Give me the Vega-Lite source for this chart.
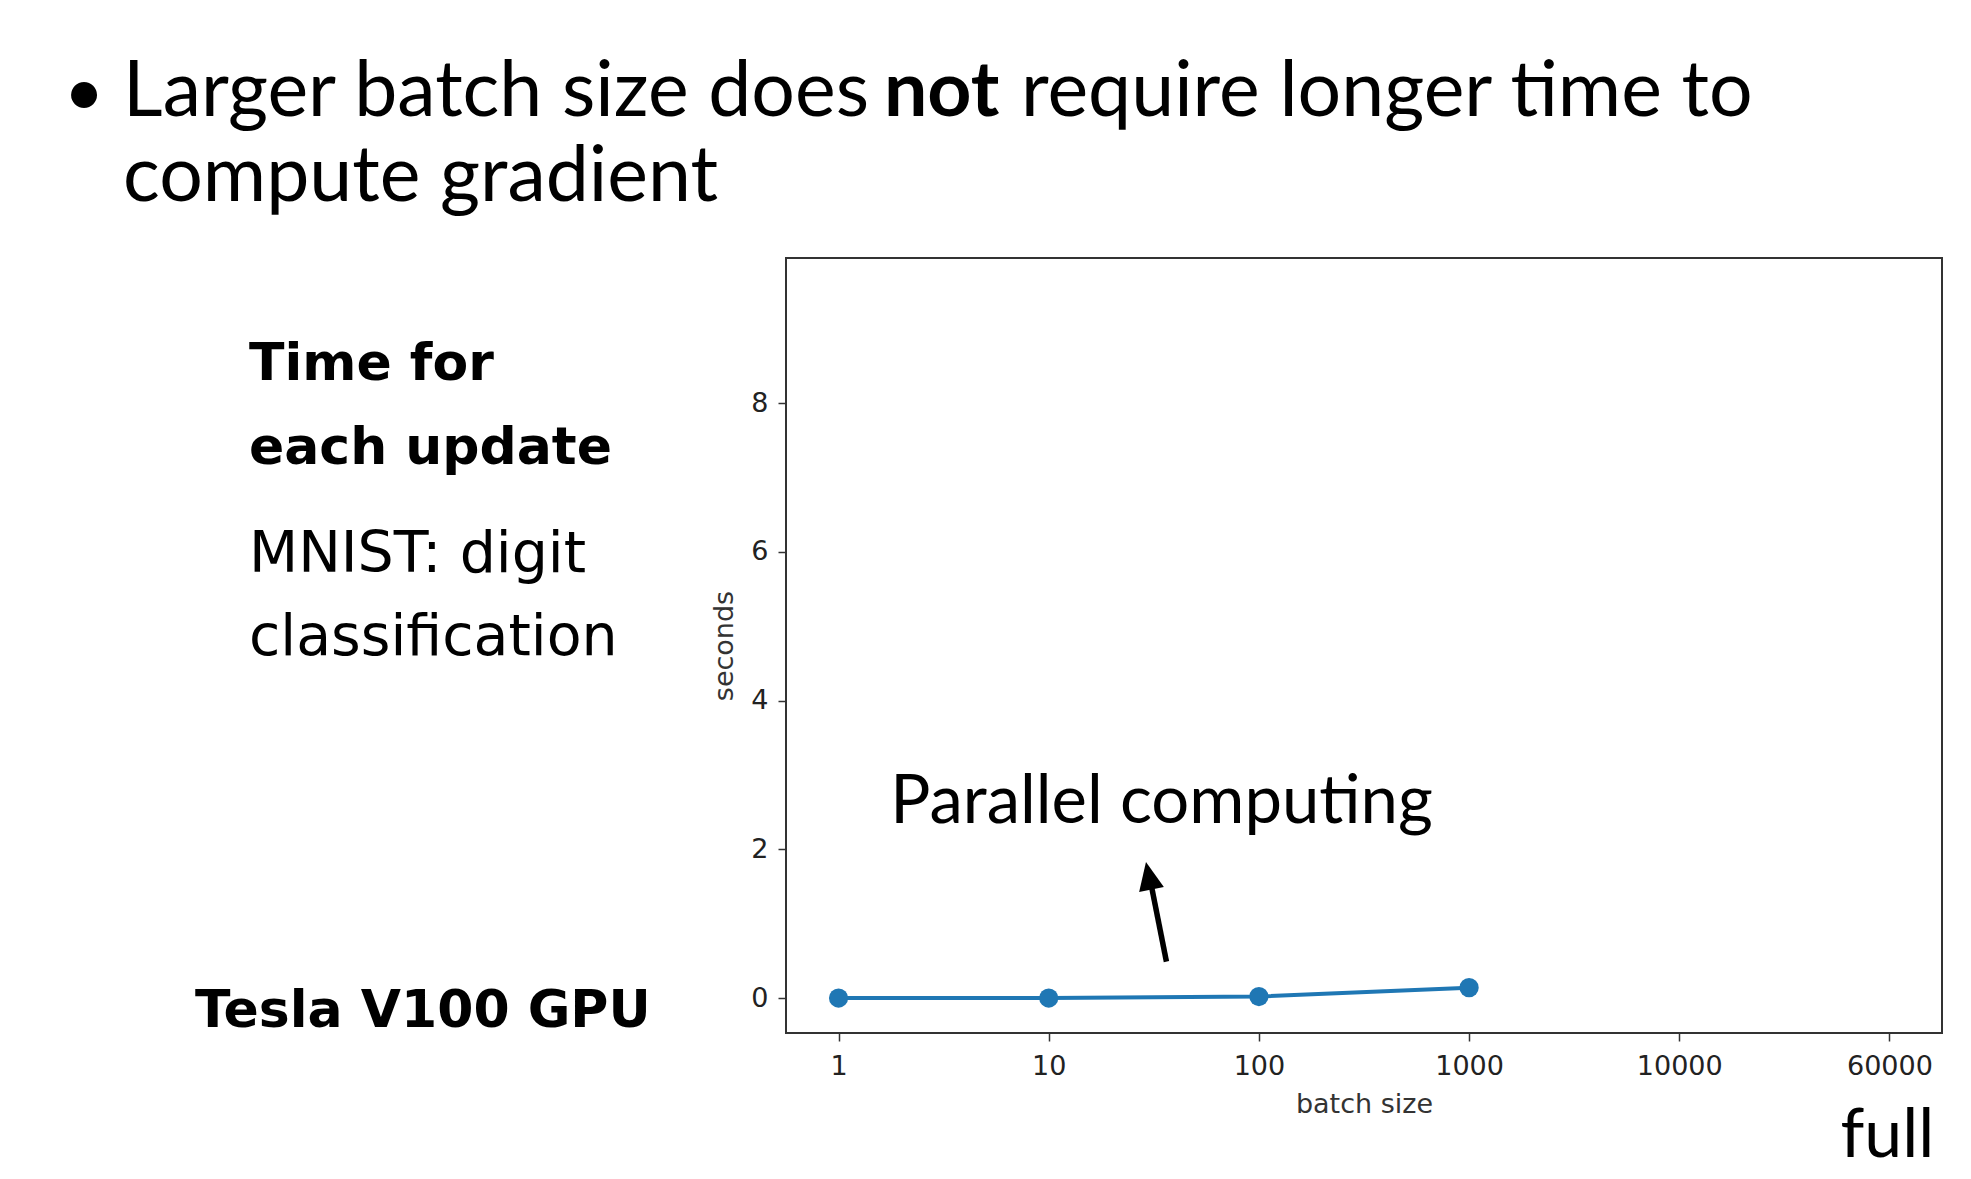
{
  "$schema": "https://vega.github.io/schema/vega-lite/v6.json",
  "width": 1156,
  "height": 775,
  "autosize": {"type": "none"},
  "padding": {"left": 786, "top": 258, "right": 29, "bottom": 146},
  "background": "white",
  "config": {
    "view": {"stroke": "#333333", "strokeWidth": 2},
    "axis": {
      "domain": false,
      "grid": false,
      "tickColor": "#333333",
      "tickSize": 8,
      "tickWidth": 1.5,
      "labelFont": "DejaVu Sans",
      "labelFontSize": 27,
      "labelColor": "#222222",
      "titleFont": "DejaVu Sans",
      "titleFontSize": 27,
      "titleFontWeight": "normal",
      "titleColor": "#333333"
    }
  },
  "layer": [
    {
      "data": {"values": [
        {"batch": "1", "seconds": 0.0},
        {"batch": "10", "seconds": 0.0},
        {"batch": "100", "seconds": 0.02},
        {"batch": "1000", "seconds": 0.14}
      ]},
      "mark": {"type": "line", "color": "#1f77b4", "strokeWidth": 4, "point": {"filled": true, "size": 370, "color": "#1f77b4"}},
      "encoding": {
        "x": {"field": "batch", "type": "ordinal", "sort": null,
              "scale": {"type": "point", "domain": ["1", "10", "100", "1000", "10000", "60000"], "padding": 0.25},
              "axis": {"title": "batch size", "labelAngle": 0, "labelPadding": 12, "titlePadding": 12}},
        "y": {"field": "seconds", "type": "quantitative",
              "scale": {"domain": [-0.47, 9.95], "nice": false, "zero": false},
              "axis": {"title": "seconds", "values": [0, 2, 4, 6, 8], "format": "d", "labelPadding": 10, "titlePadding": 12}}
      }
    },
    {
      "data": {"values": [{"t": "•"}]},
      "mark": {"type": "text", "align": "center", "baseline": "alphabetic", "font": "Lato", "fontSize": 70, "color": "#000000"},
      "encoding": {
        "text": {"field": "t"},
        "x": {"datum": -3.59, "type": "quantitative", "scale": {"domain": [-0.25, 5.25], "nice": false, "zero": false}, "axis": null},
        "y": {"datum": 11.86, "type": "quantitative"}
      }
    },
    {
      "data": {"values": [{"t": "Larger batch size does"}]},
      "mark": {"type": "text", "align": "left", "baseline": "alphabetic", "font": "Lato", "fontSize": 77, "color": "#000000"},
      "encoding": {
        "text": {"field": "t"},
        "x": {"datum": -3.404, "type": "quantitative", "scale": {"domain": [-0.25, 5.25], "nice": false, "zero": false}, "axis": null},
        "y": {"datum": 11.86, "type": "quantitative"}
      }
    },
    {
      "data": {"values": [{"t": "not"}]},
      "mark": {"type": "text", "align": "left", "baseline": "alphabetic", "font": "Lato", "fontSize": 77, "fontWeight": "bold", "color": "#000000"},
      "encoding": {
        "text": {"field": "t"},
        "x": {"datum": 0.216, "type": "quantitative", "scale": {"domain": [-0.25, 5.25], "nice": false, "zero": false}, "axis": null},
        "y": {"datum": 11.86, "type": "quantitative"}
      }
    },
    {
      "data": {"values": [{"t": "require longer time to"}]},
      "mark": {"type": "text", "align": "left", "baseline": "alphabetic", "font": "Lato", "fontSize": 77, "color": "#000000"},
      "encoding": {
        "text": {"field": "t"},
        "x": {"datum": 0.868, "type": "quantitative", "scale": {"domain": [-0.25, 5.25], "nice": false, "zero": false}, "axis": null},
        "y": {"datum": 11.86, "type": "quantitative"}
      }
    },
    {
      "data": {"values": [{"t": "compute gradient"}]},
      "mark": {"type": "text", "align": "left", "baseline": "alphabetic", "font": "Lato", "fontSize": 77, "color": "#000000"},
      "encoding": {
        "text": {"field": "t"},
        "x": {"datum": -3.404, "type": "quantitative", "scale": {"domain": [-0.25, 5.25], "nice": false, "zero": false}, "axis": null},
        "y": {"datum": 10.72, "type": "quantitative"}
      }
    },
    {
      "data": {"values": [{"t": "Time for", "v": 8.31}, {"t": "each update", "v": 7.18}]},
      "mark": {"type": "text", "align": "left", "baseline": "alphabetic", "font": "DejaVu Sans", "fontSize": 52, "fontWeight": "bold", "color": "#000000"},
      "encoding": {
        "text": {"field": "t"},
        "x": {"datum": -2.805, "type": "quantitative", "scale": {"domain": [-0.25, 5.25], "nice": false, "zero": false}, "axis": null},
        "y": {"field": "v", "type": "quantitative"}
      }
    },
    {
      "data": {"values": [{"t": "MNIST: digit", "v": 5.73}, {"t": "classification", "v": 4.61}]},
      "mark": {"type": "text", "align": "left", "baseline": "alphabetic", "font": "DejaVu Sans", "fontSize": 57, "color": "#000000"},
      "encoding": {
        "text": {"field": "t"},
        "x": {"datum": -2.805, "type": "quantitative", "scale": {"domain": [-0.25, 5.25], "nice": false, "zero": false}, "axis": null},
        "y": {"field": "v", "type": "quantitative"}
      }
    },
    {
      "data": {"values": [{"t": "Tesla V100 GPU"}]},
      "mark": {"type": "text", "align": "left", "baseline": "alphabetic", "font": "DejaVu Sans", "fontSize": 52, "fontWeight": "bold", "color": "#000000"},
      "encoding": {
        "text": {"field": "t"},
        "x": {"datum": -3.062, "type": "quantitative", "scale": {"domain": [-0.25, 5.25], "nice": false, "zero": false}, "axis": null},
        "y": {"datum": -0.39, "type": "quantitative"}
      }
    },
    {
      "data": {"values": [{"t": "Parallel computing"}]},
      "mark": {"type": "text", "align": "center", "baseline": "alphabetic", "font": "Lato", "fontSize": 67, "color": "#000000"},
      "encoding": {
        "text": {"field": "t"},
        "x": {"datum": 1.537, "type": "quantitative", "scale": {"domain": [-0.25, 5.25], "nice": false, "zero": false}, "axis": null},
        "y": {"datum": 2.35, "type": "quantitative"}
      }
    },
    {
      "data": {"values": [{"t": "full"}]},
      "mark": {"type": "text", "align": "center", "baseline": "alphabetic", "font": "Lato", "fontSize": 68, "color": "#000000"},
      "encoding": {
        "text": {"field": "t"},
        "x": {"datum": 4.99, "type": "quantitative", "scale": {"domain": [-0.25, 5.25], "nice": false, "zero": false}, "axis": null},
        "y": {"datum": -2.14, "type": "quantitative"}
      }
    },
    {
      "data": {"values": [{"t": "arrow"}]},
      "mark": {"type": "rule", "color": "#000000", "strokeWidth": 5.5},
      "encoding": {
        "x": {"datum": 1.560, "type": "quantitative", "scale": {"domain": [-0.25, 5.25], "nice": false, "zero": false}, "axis": null},
        "y": {"datum": 0.49, "type": "quantitative"},
        "x2": {"datum": 1.487},
        "y2": {"datum": 1.53}
      }
    },
    {
      "data": {"values": [{"t": "arrowhead"}]},
      "mark": {"type": "point", "shape": "M0,-1L-0.45,0L0.45,0Z", "filled": true, "color": "#000000", "opacity": 1, "size": 3136, "angle": -11.4, "strokeWidth": 0},
      "encoding": {
        "x": {"datum": 1.489, "type": "quantitative", "scale": {"domain": [-0.25, 5.25], "nice": false, "zero": false}, "axis": null},
        "y": {"datum": 1.46, "type": "quantitative"}
      }
    }
  ],
  "resolve": {"scale": {"x": "independent"}}
}
